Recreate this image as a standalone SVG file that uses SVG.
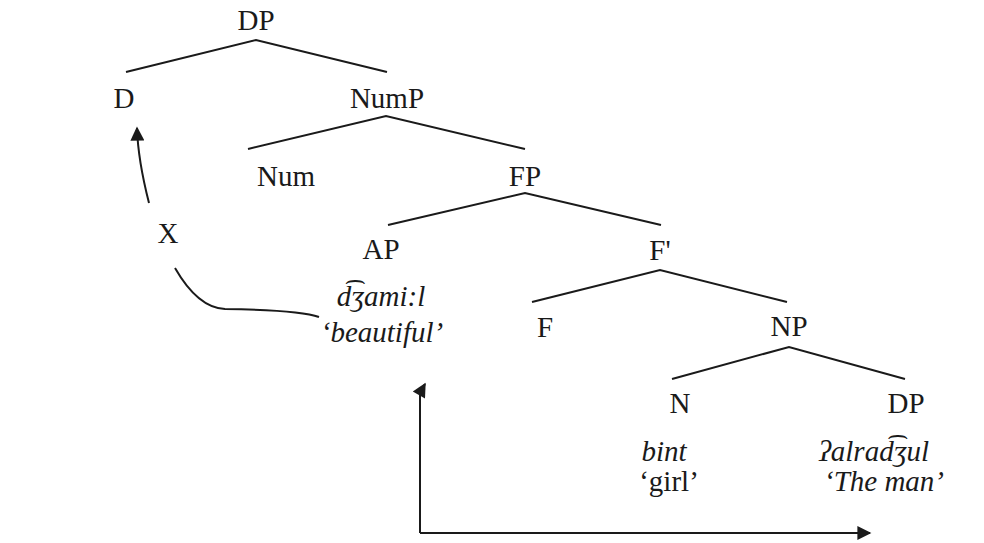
<svg xmlns="http://www.w3.org/2000/svg" width="984" height="543" viewBox="0 0 984 543">
<style>
text{font-family:"Liberation Serif","DejaVu Serif",serif;font-size:29px;fill:#1a1a1a;text-anchor:middle}
.it{font-style:italic}
.e{stroke:#1a1a1a;stroke-width:2;fill:none}
</style>
<defs>
<marker id="ahb" viewBox="0 0 10 10" refX="9" refY="5" markerWidth="16" markerHeight="14" orient="auto" markerUnits="userSpaceOnUse"><path d="M0,0 L10,5 L0,10 z" fill="#1a1a1a"/></marker>
</defs>
<rect width="984" height="543" fill="#fff"/>
<g id="n-dp"><text x="256" y="30">DP</text></g>
<g id="n-d"><text x="124" y="108">D</text></g>
<g id="n-nump"><text x="387" y="108">NumP</text></g>
<g id="n-num"><text x="286" y="186">Num</text></g>
<g id="n-fp"><text x="525" y="186">FP</text></g>
<g id="n-x"><text x="168" y="243">X</text></g>
<g id="n-ap"><text x="381" y="259">AP</text><text class="it" x="381" y="306">d͡ʒami:l</text><text class="it" x="382" y="342">‘beautiful’</text></g>
<g id="n-fbar"><text x="660" y="260">F'</text></g>
<g id="n-f"><text x="545" y="337">F</text></g>
<g id="n-np"><text x="789" y="336">NP</text></g>
<g id="n-n"><text x="680" y="413">N</text><text class="it" x="664" y="461">bint</text><text x="669" y="491">‘girl’</text></g>
<g id="n-dp2"><text x="906" y="413">DP</text><text class="it" x="874" y="461">ʔalrad͡ʒul</text><text class="it" x="884" y="491">‘The man’</text></g>
<g id="connectors">
<path class="e" d="M126,72 L256,40 L387,72"/>
<path class="e" d="M248,149 L386,116 L525,149"/>
<path class="e" d="M388,225 L525,193 L661,225"/>
<path class="e" d="M532,302 L660,270 L787,302"/>
<path class="e" d="M672,379 L789,347 L905,379"/>
<path class="e" d="M149,203 Q138,160 137,128" marker-end="url(#ahb)"/>
<path class="e" d="M175,268 Q198,308 225,309 Q300,310 319,317"/>
<path class="e" d="M420,533 L420,393 L425,384" marker-end="url(#ahb)"/>
<path class="e" d="M420,533 L870,533" marker-end="url(#ahb)"/>
</g>
</svg>
